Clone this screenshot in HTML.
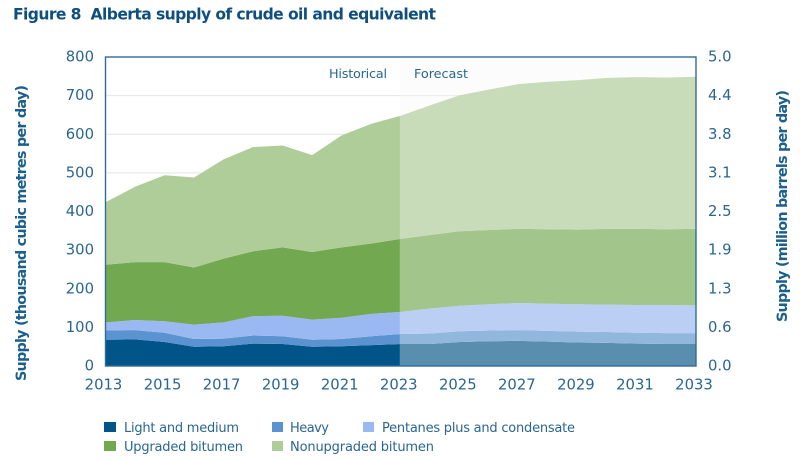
<!DOCTYPE html>
<html lang="en">
<head>
<meta charset="utf-8">
<title>Alberta supply of crude oil and equivalent</title>
<style>
html,body{margin:0;padding:0;background:#fff;}
body{width:800px;height:461px;overflow:hidden;}
svg{display:block;font-family:"DejaVu Sans","Liberation Sans",sans-serif;}
.tick{font-size:14.8px;fill:#2a6690;}
.leg{font-size:13px;fill:#2a6690;}
.axt{font-size:14.4px;font-weight:700;fill:#1b5f8c;}
</style>
</head>
<body>
<svg id="chart" xmlns="http://www.w3.org/2000/svg" width="800" height="461" viewBox="0 0 800 461">
  <text x="13" y="19.5" font-size="15.6" font-weight="700" fill="#0f4f7d" textLength="423" lengthAdjust="spacing" xml:space="preserve">Figure 8  Alberta supply of crude oil and equivalent</text>
  <g id="grid"></g>
  <g id="areas"></g>
  <rect id="forecast" fill="#f6f6f6" fill-opacity="0.36"></rect>
  <rect id="frame" fill="none" stroke="#2f6d97" stroke-width="1.4"></rect>
  <g id="ticks"></g>
  <text class="tick" x="329" y="78" style="font-size:12.8px" textLength="58" lengthAdjust="spacing">Historical</text>
  <text class="tick" x="414" y="78" style="font-size:12.8px" textLength="54" lengthAdjust="spacing">Forecast</text>
  <text class="axt" transform="translate(26,381) rotate(-90)" textLength="296" lengthAdjust="spacing">Supply (thousand cubic metres per day)</text>
  <text class="axt" transform="translate(787,322) rotate(-90)" textLength="232" lengthAdjust="spacing">Supply (million barrels per day)</text>
  <g>
    <g>
      <rect x="104" y="422" width="12" height="10" fill="#005487"></rect>
      <text class="leg" x="124" y="432" textLength="115" lengthAdjust="spacing">Light and medium</text>
    </g>
    <g>
      <rect x="272" y="422" width="11" height="10" fill="#5a93cf"></rect>
      <text class="leg" x="290" y="432" textLength="39" lengthAdjust="spacing">Heavy</text>
    </g>
    <g>
      <rect x="363" y="422" width="11" height="10" fill="#9ab9f2"></rect>
      <text class="leg" x="382" y="432" textLength="193" lengthAdjust="spacing">Pentanes plus and condensate</text>
    </g>
    <g>
      <rect x="104" y="441" width="12" height="10" fill="#72a950"></rect>
      <text class="leg" x="124" y="451" textLength="119" lengthAdjust="spacing">Upgraded bitumen</text>
    </g>
    <g>
      <rect x="272" y="441" width="11" height="10" fill="#afcd98"></rect>
      <text class="leg" x="290" y="451" textLength="144" lengthAdjust="spacing">Nonupgraded bitumen</text>
    </g>
  </g>
</svg>
<script>
const years = [2013,2014,2015,2016,2017,2018,2019,2020,2021,2022,2023,2024,2025,2026,2027,2028,2029,2030,2031,2032,2033];
const lightMedium = [68,69,62,50,51,58,57,50,51,54,57,57,62,64,65,63,61,60,58,57,57];
const heavy = [24,24,24,20,20,21,20,18,19,23,26,27,28,28,28,28,28,28,28,28,28];
const pentanes = [21,26,30,37,42,50,53,52,55,58,57,65,66,68,70,70,71,71,72,73,72];
const upgraded = [149,150,153,148,165,168,177,175,182,182,189,190,193,192,192,193,193,196,197,196,198];
const nonupgraded = [162,195,225,233,257,270,264,251,290,310,319,336,352,364,375,382,387,391,393,393,394];
const leftTicks = [0,100,200,300,400,500,600,700,800];
const rightTicks = ["0.0","0.6","1.3","1.9","2.5","3.1","3.8","4.4","5.0"];
const xTicks = [2013,2015,2017,2019,2021,2023,2025,2027,2029,2031,2033];
const forecastStartYear = 2023;

const NS = "http://www.w3.org/2000/svg";
const plotL = 105.5, plotR = 696, plotT = 57, plotB = 366;
const yMax = 800;
function xScale(year){ return plotL + (year - years[0]) * (plotR - plotL) / (years[years.length-1] - years[0]); }
function yScale(v){ return plotB - v * (plotB - plotT) / yMax; }

const grid = document.getElementById("grid");
leftTicks.forEach(function(t){
  if (t === 0 || t === yMax) return;
  const ln = document.createElementNS(NS, "line");
  
  
  ln.setAttribute("x1", plotL);
  ln.setAttribute("x2", plotR);
  ln.setAttribute("y1", yScale(t));
  ln.setAttribute("y2", yScale(t));
  ln.setAttribute("stroke", "#e4e4e4");
  ln.setAttribute("stroke-width", "1");
  grid.appendChild(ln);
});

const seriesList = [lightMedium, heavy, pentanes, upgraded, nonupgraded];
const seriesColors = ["#005487","#5a93cf","#9ab9f2","#72a950","#afcd98"];
const areas = document.getElementById("areas");
let base = years.map(function(){ return 0; });
seriesList.forEach(function(values, s){
  const top = values.map(function(v, i){ return base[i] + v; });
  let d = "";
  top.forEach(function(v, i){
    d += (i ? "L" : "M") + xScale(years[i]).toFixed(2) + " " + yScale(v).toFixed(2);
  });
  for (let i = years.length - 1; i >= 0; i--) {
    d += "L" + xScale(years[i]).toFixed(2) + " " + yScale(base[i]).toFixed(2);
  }
  d += "Z";
  const p = document.createElementNS(NS, "path");
  
  
  p.setAttribute("d", d);
  p.setAttribute("fill", seriesColors[s]);
  areas.appendChild(p);
  base = top;
});

const fc = document.getElementById("forecast");
const fcX = xScale(forecastStartYear) - 1;
fc.setAttribute("x", fcX);
fc.setAttribute("y", plotT);
fc.setAttribute("width", plotR - fcX);
fc.setAttribute("height", plotB - plotT);

const frame = document.getElementById("frame");
frame.setAttribute("x", plotL);
frame.setAttribute("y", plotT);
frame.setAttribute("width", plotR - plotL);
frame.setAttribute("height", plotB - plotT);

const ticks = document.getElementById("ticks");
leftTicks.forEach(function(t, i){
  const a = document.createElementNS(NS, "text");
  
  
  a.setAttribute("class", "tick");
  a.setAttribute("x", 94);
  a.setAttribute("y", yScale(t) + 4.5);
  a.setAttribute("text-anchor", "end");
  a.textContent = t;
  ticks.appendChild(a);
  const b = document.createElementNS(NS, "text");
  
  
  b.setAttribute("class", "tick");
  b.setAttribute("x", 708);
  b.setAttribute("y", yScale(t) + 4.5);
  b.textContent = rightTicks[i];
  ticks.appendChild(b);
});
xTicks.forEach(function(y){
  const a = document.createElementNS(NS, "text");
  
  
  a.setAttribute("class", "tick");
  a.setAttribute("x", xScale(y) - 2);
  a.setAttribute("y", 389.5);
  a.setAttribute("text-anchor", "middle");
  a.textContent = y;
  ticks.appendChild(a);
});
</script>
</body>
</html>
